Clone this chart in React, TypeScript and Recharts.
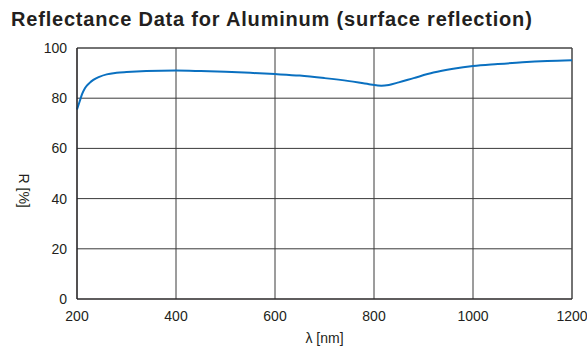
import { LineChart, Line, XAxis, YAxis, CartesianGrid, ReferenceLine } from "recharts";

// wavelength in nm
const wavelengths = [
  200, 205, 210, 216, 225, 233, 245, 260, 280, 300, 340, 400, 450, 500, 550, 600,
  650, 700, 750, 790, 815, 830, 850, 880, 920, 960, 1000, 1050, 1100, 1150, 1200,
];
// reflectance R in %
const reflectance = [
  75.5, 78.5, 81.5, 84.0, 86.0, 87.3, 88.5, 89.5, 90.1, 90.4, 90.8, 91.0, 90.8, 90.5, 90.1, 89.6,
  89.0, 88.0, 86.8, 85.6, 85.0, 85.3, 86.3, 88.0, 90.2, 91.7, 92.8, 93.6, 94.3, 94.8, 95.1,
];
const xTicks = [200, 400, 600, 800, 1000, 1200];
const yTicks = [0, 20, 40, 60, 80, 100];

const data = wavelengths.map((w, i) => ({ w, r: reflectance[i] }));

const font = "'Liberation Sans', Arial, Helvetica, sans-serif";

export default function App() {
  return (
    <div style={{ position: "absolute", left: 0, top: 0, width: 587, height: 349, background: "#fff", fontFamily: font }}>
      <div
        style={{
          position: "absolute",
          left: 11,
          top: 8,
          fontSize: 20,
          letterSpacing: 0.8,
          fontWeight: "bold",
          color: "#231f20",
          whiteSpace: "nowrap",
        }}
      >
        Reflectance Data for Aluminum (surface reflection)
      </div>
      <LineChart width={587} height={349} data={data} margin={{ top: 48, right: 15, bottom: 20, left: 0 }}>
        <CartesianGrid stroke="#3a3a3a" strokeWidth={1} horizontalValues={yTicks} verticalValues={xTicks} />
        <XAxis
          dataKey="w"
          type="number"
          domain={[200, 1200]}
          ticks={xTicks}
          height={30}
          tickLine={false}
          tickSize={0}
          tickMargin={12}
          axisLine={{ stroke: "#231f20", strokeWidth: 1.2 }}
          tick={{ fill: "#231f20", fontSize: 14, fontFamily: font }}
          label={{ value: "λ  [nm]", position: "insideBottom", offset: -14, fill: "#231f20", fontSize: 14, fontFamily: font }}
        />
        <YAxis
          type="number"
          domain={[0, 100]}
          ticks={yTicks}
          width={77}
          tickLine={false}
          tickSize={0}
          tickMargin={10}
          axisLine={{ stroke: "#231f20", strokeWidth: 1.2 }}
          tick={{ fill: "#231f20", fontSize: 14, fontFamily: font }}
          label={{ value: "R [%]", angle: 90, position: "insideLeft", offset: 24, fill: "#231f20", fontSize: 14, fontFamily: font }}
        />
        <ReferenceLine y={100} stroke="#4a4a4a" />
        <ReferenceLine x={1200} stroke="#4a4a4a" />
        <Line
          type="monotone"
          dataKey="r"
          stroke="#0a70c0"
          strokeWidth={2}
          dot={false}
          isAnimationActive={false}
        />
      </LineChart>
    </div>
  );
}
